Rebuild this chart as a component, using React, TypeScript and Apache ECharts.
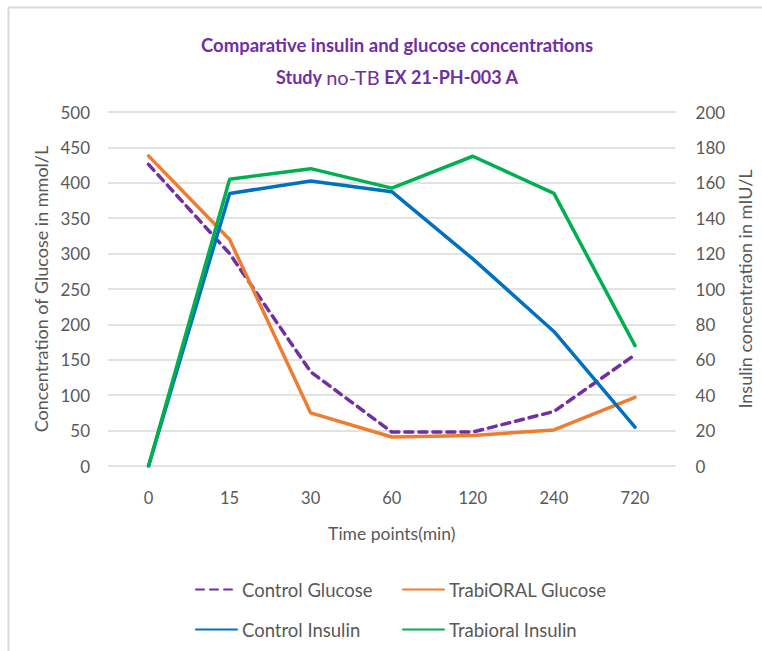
import React, { useEffect, useRef } from "react";
import * as echarts from "echarts";

const categories = ["0", "15", "30", "60", "120", "240", "720"];
const controlGlucose = [426, 300, 133, 48, 48, 77, 157];
const trabiGlucose = [438, 320, 75, 41, 43, 51, 97];
const controlInsulin = [0, 154, 161, 155, 117, 76, 22];
const trabiInsulin = [0, 162, 168, 157, 175, 154, 68];

const FONT = "Lato, 'Open Sans', sans-serif";
const GRAY = "#595959";

export default function App() {
  const ref = useRef<HTMLDivElement>(null);
  useEffect(() => {
    const chart = echarts.init(ref.current!, null, { renderer: "svg" });
    const legendBase = {
      itemWidth: 41,
      itemHeight: 14,
      textStyle: { color: GRAY, fontSize: 18.5, fontFamily: FONT },
      itemGap: 5,
      itemStyle: { opacity: 0, color: "transparent", borderWidth: 0 },
    };
    chart.setOption({
      animation: false,
      backgroundColor: "#ffffff",
      title: {
        text: "Comparative insulin and glucose concentrations\n{b|Study }{n|no-TB}{b| EX 21-PH-003 A}",
        left: 392,
        textAlign: "center",
        top: 24,
        textStyle: {
          color: "#7030A0",
          fontSize: 18.5,
          fontWeight: "bold",
          fontFamily: FONT,
          lineHeight: 32,
          rich: {
            b: { color: "#7030A0", fontSize: 18, fontWeight: "bold", fontFamily: FONT },
            n: { color: "#7030A0", fontSize: 20, fontWeight: "normal", fontFamily: FONT },
          },
        },
      },
      grid: { left: 108, right: 86, top: 112, bottom: 185 },
      legend: [
        { ...legendBase, left: 190, top: 575, data: ["Control Glucose"] },
        { ...legendBase, left: 397, top: 575, data: ["TrabiORAL Glucose"] },
        { ...legendBase, left: 190, top: 615, data: ["Control Insulin"] },
        { ...legendBase, left: 397, top: 615, data: ["Trabioral Insulin"] },
      ],
      xAxis: {
        type: "category",
        data: categories,
        boundaryGap: true,
        axisLine: { show: false },
        axisTick: { show: false },
        axisLabel: { color: GRAY, fontSize: 16.5, fontFamily: FONT, margin: 23 },
        name: "Time points(min)",
        nameLocation: "middle",
        nameGap: 58,
        nameTextStyle: { color: GRAY, fontSize: 17.5, fontFamily: FONT },
      },
      yAxis: [
        {
          type: "value",
          min: 0,
          max: 500,
          interval: 50,
          axisLine: { show: false },
          axisTick: { show: false },
          splitLine: { lineStyle: { color: "#D9D9D9", width: 1.5 } },
          axisLabel: { color: GRAY, fontSize: 17, fontFamily: FONT, margin: 18 },
          name: "Concentration of Glucose in mmol/L",
          nameLocation: "middle",
          nameGap: 58,
          nameRotate: 90,
          nameTextStyle: { color: GRAY, fontSize: 18, fontFamily: FONT },
        },
        {
          type: "value",
          min: 0,
          max: 200,
          interval: 20,
          axisLine: { show: false },
          axisTick: { show: false },
          splitLine: { show: false },
          axisLabel: { color: GRAY, fontSize: 17, fontFamily: FONT, margin: 20 },
          name: "Insulin concentration in mIU/L",
          nameLocation: "middle",
          nameGap: 60,
          nameRotate: 90,
          nameTextStyle: { color: GRAY, fontSize: 18, fontFamily: FONT },
        },
      ],
      series: [
        {
          name: "Control Glucose",
          type: "line",
          yAxisIndex: 0,
          data: controlGlucose,
          symbol: "none",
          color: "#7030A0",
          lineStyle: { color: "#7030A0", width: 3.5, type: [8, 6], cap: "round" },
        },
        {
          name: "TrabiORAL Glucose",
          type: "line",
          yAxisIndex: 0,
          data: trabiGlucose,
          symbol: "none",
          color: "#ED7D31",
          lineStyle: { color: "#ED7D31", width: 3.5, cap: "round" },
        },
        {
          name: "Control Insulin",
          type: "line",
          yAxisIndex: 1,
          data: controlInsulin,
          symbol: "none",
          color: "#0070C0",
          lineStyle: { color: "#0070C0", width: 3.5, cap: "round" },
        },
        {
          name: "Trabioral Insulin",
          type: "line",
          yAxisIndex: 1,
          data: trabiInsulin,
          symbol: "none",
          color: "#00B050",
          lineStyle: { color: "#00B050", width: 3.5, cap: "round" },
        },
      ],
      graphic: [
        { type: "line", shape: { x1: 8.5, y1: 7.5, x2: 762, y2: 7.5 }, style: { stroke: "#D9D9D9", lineWidth: 2 } },
        { type: "line", shape: { x1: 8.5, y1: 7.5, x2: 8.5, y2: 651 }, style: { stroke: "#D9D9D9", lineWidth: 2 } },
      ],
    });
    return () => chart.dispose();
  }, []);
  return (
    <div
      ref={ref}
      style={{ position: "fixed", left: 0, top: 0, width: 762, height: 651, background: "#fff" }}
    />
  );
}
